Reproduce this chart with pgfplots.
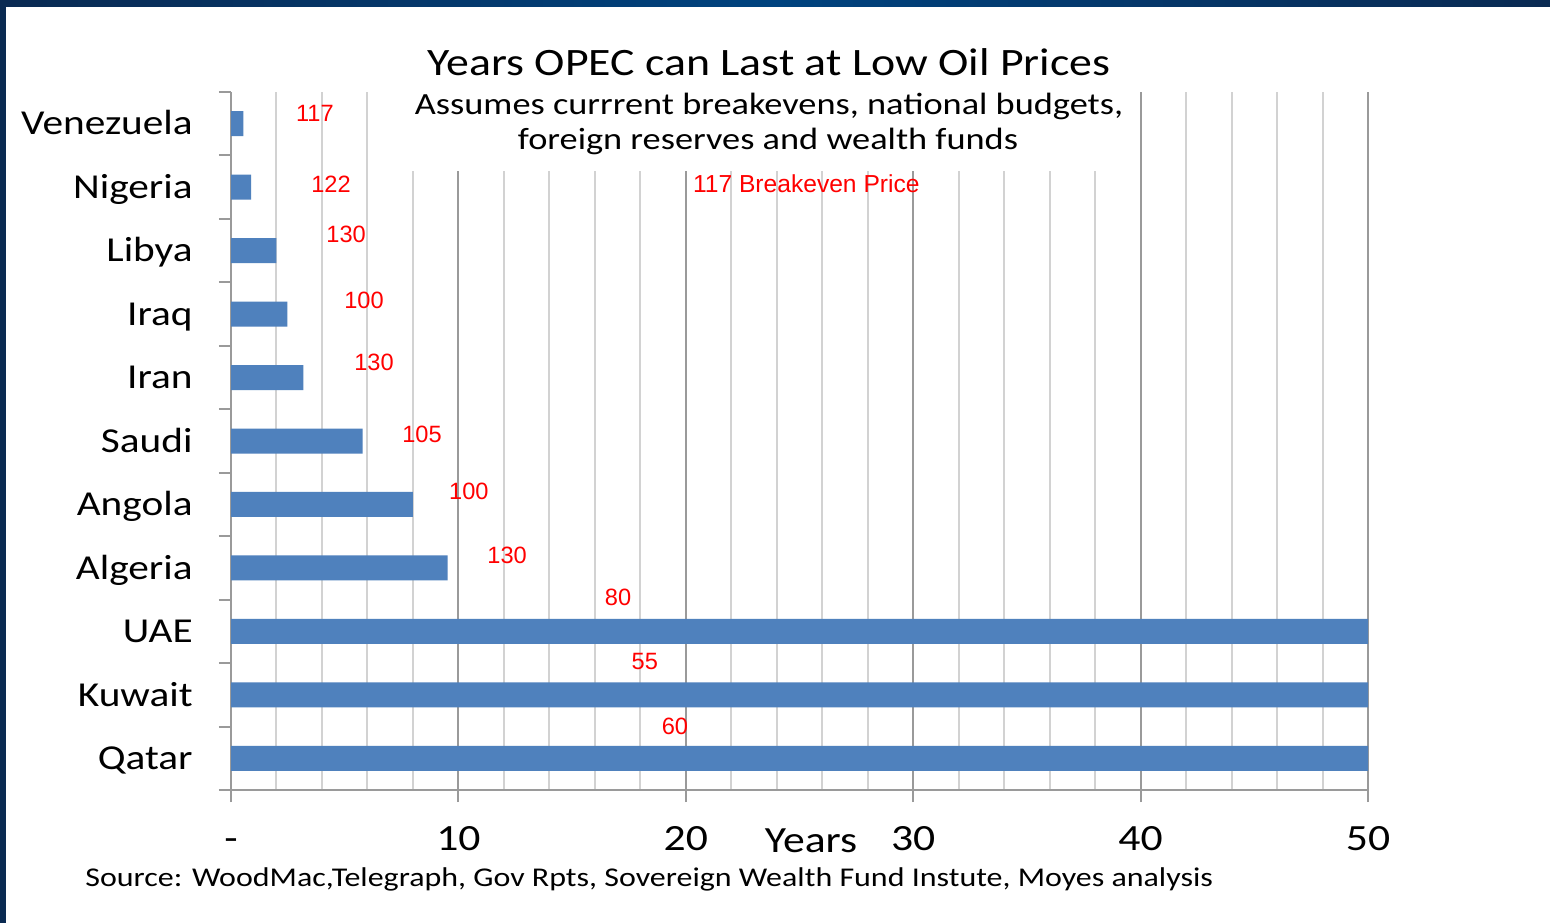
\documentclass[border=0pt]{standalone}
\usepackage{pgfplots}
\pgfplotsset{compat=1.18}
\usepackage{fontspec}
\setmainfont[FakeStretch=1.18]{Carlito}
\newfontfamily\arialf{Liberation Sans}
\definecolor{barblue}{HTML}{4F81BD}
\definecolor{navyA}{HTML}{0A2A52}
\definecolor{navyB}{HTML}{00437F}
\definecolor{majgrid}{HTML}{9A9A9A}
\definecolor{mingrid}{HTML}{D2D2D2}

\begin{document}
\begin{tikzpicture}
\path[use as bounding box] (0,0) rectangle (775pt,461.5pt);
\fill[white] (0,0) rectangle (775pt,461.5pt);

\begin{axis}[
    at={(115.5pt,66.5pt)}, anchor=south west,
    scale only axis, width=568.5pt, height=349pt,
    xmin=0, xmax=50, ymin=-0.5, ymax=10.5,
    axis lines*=left,
    axis line style={majgrid, line width=1pt},
    tick align=outside,
    major tick length=6pt, minor tick length=0pt,
    xtick={0,10,...,50},
    xticklabels={-,10,20,30,40,50},
    minor xtick={2,4,6,8,12,14,16,18,22,24,26,28,32,34,36,38,42,44,46,48},
    xmajorgrids, xminorgrids,
    major grid style={majgrid, line width=1pt},
    minor grid style={mingrid, line width=1pt},
    xtick style={majgrid, line width=1pt},
    xticklabel style={font=\fontsize{18.5}{20}\selectfont, anchor=base, yshift=-24pt, inner sep=0pt},
    ytick={0,...,10},
    yticklabels={Qatar,Kuwait,UAE,Algeria,Angola,Saudi,Iran,Iraq,Libya,Nigeria,Venezuela},
    ytick style={draw=none},
    yticklabel style={font=\fontsize{17.5}{19}\selectfont, text height=11.2pt, text depth=0pt, inner sep=0pt, xshift=-13pt},
    extra y ticks={-0.5,0.5,...,10.5},
    extra y tick labels={},
    extra y tick style={ytick style={draw=majgrid, line width=1pt}},
    clip=false,
]
\addplot[xbar, bar width=12.5pt, bar shift=0pt, fill=barblue, draw=none] coordinates {
    (50,0) (50,1) (50,2) (9.53,3) (8.0,4) (5.79,5) (3.18,6) (2.48,7) (2.0,8) (0.89,9) (0.54,10)
};
\addplot[only marks, mark=*, mark size=0pt, mark options={draw=none, fill=none},
    nodes near coords, point meta=explicit symbolic,
    nodes near coords style={anchor=center, text=red, font=\arialf\fontsize{11.8}{13}\selectfont, inner sep=0pt}]
    table[meta=lab] {
x y lab
3.69 10.16 117
4.40 9.05 122
5.06 8.26 130
5.85 7.22 100
6.29 6.24 130
8.40 5.10 105
10.46 4.20 100
12.14 3.19 130
17.02 2.54 80
18.20 1.53 55
19.52 0.51 60
};
\node[text=red, font=\arialf\fontsize{12.3}{14}\selectfont, inner sep=0pt] at (axis cs:25.3,9.05) {117 Breakeven Price};
\end{axis}

% white box behind the subtitle
\fill[white] (197.5pt,376pt) rectangle (560pt,415.6pt);

% frame
\shade[left color=navyA, right color=navyA, middle color=navyB] (0,458pt) rectangle (775pt,461.5pt);
\fill[navyA] (0,0) rectangle (3pt,461.5pt);

% titles
\node[anchor=base, inner sep=0pt, font=\fontsize{19.4}{22}\selectfont] at (384.5pt,423.5pt) {Years OPEC can Last at Low Oil Prices};
\node[anchor=base, inner sep=0pt, font=\fontsize{15.4}{18}\selectfont] at (384.5pt,404pt) {Assumes currrent breakevens, national budgets,};
\node[anchor=base, inner sep=0pt, font=\fontsize{15.4}{18}\selectfont] at (384pt,386.5pt) {foreign reserves and wealth funds};
\node[anchor=base, inner sep=0pt, font=\fontsize{18.5}{20}\selectfont] at (405.5pt,35.5pt) {Years};
\node[anchor=base west, inner sep=0pt, font=\fontsize{13.55}{15}\selectfont] at (42.5pt,18.5pt) {Source: WoodMac,Telegraph, Gov Rpts, Sovereign Wealth Fund Instute, Moyes analysis};
\end{tikzpicture}
\end{document}
